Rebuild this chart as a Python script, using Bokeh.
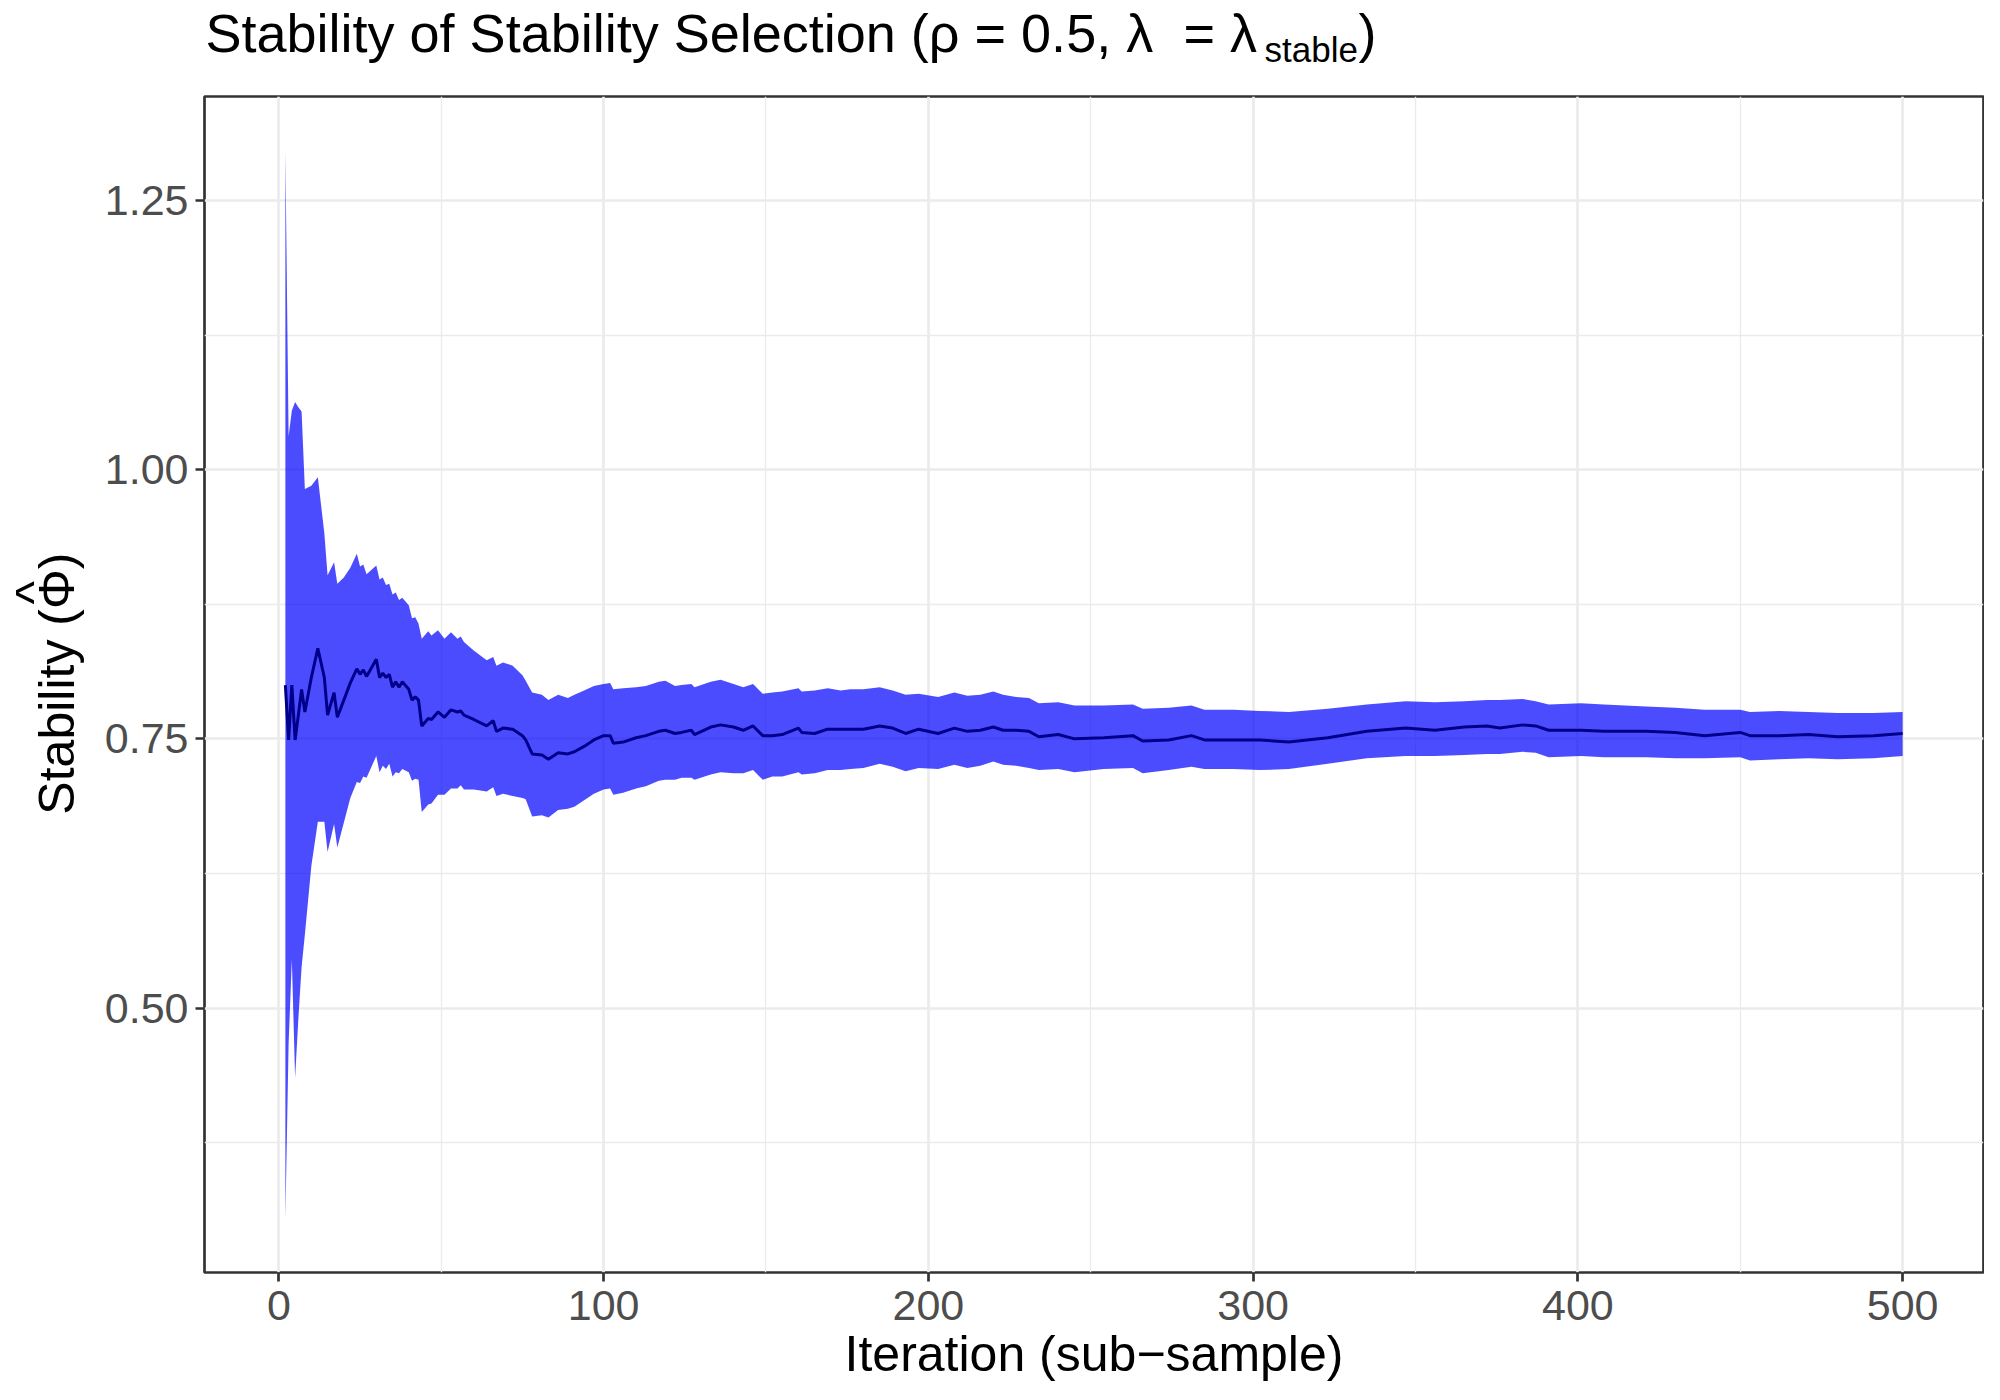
import math
from bokeh.plotting import figure
from bokeh.models import ColumnDataSource, FixedTicker, Label, Range1d
from bokeh.layouts import column, row
from bokeh.embed import file_html
from bokeh.resources import INLINE

# ---- data ----
iteration = [2, 3, 4, 5, 6, 7, 8, 10, 12, 14, 15, 17, 18, 20, 22, 24, 25, 26, 27, 30,
             31, 32, 33, 34, 35, 36, 37, 38, 40, 41, 42, 43, 44, 46, 47, 49, 51, 53, 55, 56,
             57, 60, 64, 66, 67, 69, 72, 75, 76, 78, 81, 83, 86, 89, 91, 94, 97, 100, 102, 103,
             106, 110, 113, 117, 119, 122, 124, 127, 128, 133, 136, 140, 143, 146, 149, 152, 155, 160, 161, 165,
             169, 173, 176, 180, 185, 189, 193, 197, 203, 208, 212, 216, 220, 223, 227, 231, 234, 240, 245, 254,
             263, 266, 274, 281, 285, 294, 302, 311, 323, 335, 347, 356, 365, 372, 376, 383, 387, 391, 401, 408,
             421, 430, 439, 450, 453, 462, 471, 480, 491, 500]

stab_mean = [0.800, 0.749, 0.800, 0.749, 0.772, 0.796, 0.775, 0.807, 0.834, 0.807, 0.772, 0.793, 0.770, 0.786, 0.802, 0.815, 0.810, 0.814, 0.808, 0.824,
             0.807, 0.811, 0.807, 0.810, 0.798, 0.803, 0.798, 0.803, 0.796, 0.786, 0.789, 0.786, 0.762, 0.769, 0.768, 0.775, 0.770, 0.777, 0.775, 0.776,
             0.772, 0.768, 0.762, 0.767, 0.757, 0.760, 0.759, 0.753, 0.749, 0.736, 0.735, 0.731, 0.737, 0.736, 0.738, 0.743, 0.749, 0.753, 0.753, 0.746,
             0.747, 0.751, 0.753, 0.757, 0.758, 0.755, 0.756, 0.758, 0.754, 0.761, 0.763, 0.761, 0.758, 0.762, 0.753, 0.753, 0.754, 0.760, 0.756, 0.755,
             0.759, 0.759, 0.759, 0.759, 0.762, 0.760, 0.755, 0.759, 0.755, 0.760, 0.757, 0.758, 0.761, 0.758, 0.758, 0.757, 0.752, 0.754, 0.750, 0.751,
             0.753, 0.748, 0.749, 0.753, 0.749, 0.749, 0.749, 0.747, 0.751, 0.757, 0.760, 0.758, 0.761, 0.762, 0.760, 0.763, 0.762, 0.758, 0.758, 0.757,
             0.757, 0.756, 0.753, 0.756, 0.753, 0.753, 0.754, 0.752, 0.753, 0.755]

stab_lower = [0.304, 0.467, 0.545, 0.435, 0.490, 0.538, 0.568, 0.632, 0.673, 0.673, 0.645, 0.671, 0.649, 0.672, 0.695, 0.710, 0.709, 0.715, 0.714, 0.734,
              0.719, 0.725, 0.722, 0.727, 0.715, 0.719, 0.718, 0.722, 0.719, 0.711, 0.713, 0.712, 0.682, 0.689, 0.690, 0.698, 0.698, 0.704, 0.704, 0.707,
              0.703, 0.703, 0.701, 0.705, 0.697, 0.699, 0.697, 0.695, 0.694, 0.678, 0.679, 0.677, 0.684, 0.685, 0.687, 0.693, 0.699, 0.703, 0.704, 0.698,
              0.700, 0.704, 0.706, 0.711, 0.712, 0.712, 0.714, 0.714, 0.712, 0.717, 0.719, 0.718, 0.718, 0.721, 0.712, 0.715, 0.715, 0.719, 0.717, 0.718,
              0.721, 0.721, 0.722, 0.723, 0.727, 0.724, 0.720, 0.723, 0.722, 0.726, 0.723, 0.725, 0.729, 0.726, 0.725, 0.723, 0.721, 0.722, 0.719, 0.722,
              0.723, 0.718, 0.721, 0.724, 0.722, 0.722, 0.721, 0.722, 0.727, 0.732, 0.734, 0.734, 0.735, 0.736, 0.736, 0.738, 0.737, 0.733, 0.734, 0.733,
              0.733, 0.732, 0.732, 0.733, 0.730, 0.731, 0.732, 0.731, 0.732, 0.734]

stab_upper = [1.297, 1.031, 1.055, 1.063, 1.058, 1.054, 0.982, 0.985, 0.993, 0.941, 0.902, 0.914, 0.894, 0.900, 0.909, 0.922, 0.910, 0.912, 0.903, 0.911,
              0.898, 0.900, 0.893, 0.894, 0.884, 0.886, 0.879, 0.881, 0.874, 0.862, 0.863, 0.857, 0.843, 0.850, 0.846, 0.851, 0.843, 0.849, 0.843, 0.845,
              0.840, 0.832, 0.823, 0.826, 0.818, 0.821, 0.818, 0.809, 0.804, 0.793, 0.791, 0.786, 0.791, 0.788, 0.791, 0.795, 0.799, 0.801, 0.802, 0.796,
              0.797, 0.798, 0.799, 0.803, 0.804, 0.799, 0.800, 0.801, 0.798, 0.803, 0.805, 0.801, 0.798, 0.801, 0.792, 0.793, 0.794, 0.797, 0.794, 0.795,
              0.797, 0.795, 0.796, 0.796, 0.798, 0.795, 0.791, 0.792, 0.789, 0.793, 0.790, 0.791, 0.794, 0.791, 0.789, 0.788, 0.783, 0.784, 0.781, 0.781,
              0.782, 0.778, 0.779, 0.781, 0.777, 0.777, 0.776, 0.775, 0.778, 0.782, 0.785, 0.784, 0.785, 0.786, 0.786, 0.787, 0.785, 0.782, 0.783, 0.782,
              0.780, 0.779, 0.777, 0.777, 0.775, 0.776, 0.775, 0.774, 0.774, 0.775]

x_ticks = [0, 100, 200, 300, 400, 500]
x_minor_ticks = [50, 150, 250, 350, 450]
y_ticks = [0.5, 0.75, 1.0, 1.25]
y_tick_labels = ["0.50", "0.75", "1.00", "1.25"]
y_minor_ticks = [0.375, 0.625, 0.875, 1.125]

title_part1 = "Stability of Stability Selection (\u03c1 = 0.5, \u03bb"
title_part2 = "= \u03bb"
title_sub = "stable"
title_close = ")"
x_title = "Iteration (sub\u2212sample)"
y_title = "Stability (\u03a6)"
y_title_hat = "^"

FONT = "Liberation Sans"

# ---- layout geometry (pixels) ----
TOTAL_W, TOTAL_H = 1984, 1384
TITLE_H = 90
LEFT_W = 94
MAIN_W = TOTAL_W - LEFT_W
MAIN_H = TOTAL_H - TITLE_H
ML, MR, MT, MB = 110, 1, 6, 111


def blank_fig(w, h):
    f = figure(width=w, height=h, x_range=Range1d(0, w), y_range=Range1d(0, h),
               output_backend="svg", toolbar_location=None, title=None,
               x_axis_location=None, y_axis_location=None,
               min_border=0, min_border_left=0, min_border_right=0,
               min_border_top=0, min_border_bottom=0)
    f.grid.visible = False
    f.outline_line_color = None
    f.background_fill_color = "white"
    f.border_fill_color = "white"
    return f


def title_label(x, y, text, size):
    return Label(x=x, y=y, text=text, text_font=FONT, text_font_size=size,
                 text_color="black", text_baseline="alphabetic", text_align="left")


# ---- title strip ----
tf = blank_fig(TOTAL_W, TITLE_H)
tf.add_layout(title_label(205, 58, title_part1, "54px"))
tf.add_layout(title_label(1183, 58, title_part2, "54px"))
tf.add_layout(title_label(1264, 41, title_sub, "35px"))
tf.add_layout(title_label(1358, 58, title_close, "54px"))

# ---- y-axis title strip ----
lf = blank_fig(LEFT_W, MAIN_H)
lf.add_layout(Label(x=56, y=648, text=y_title, text_font=FONT,
                    text_font_size="50px", text_color="black", angle=math.pi / 2,
                    text_baseline="alphabetic", text_align="center"))
lf.add_layout(Label(x=32, y=748, text=y_title_hat, text_font=FONT,
                    text_font_size="50px", text_color="black", angle=math.pi / 2,
                    text_baseline="alphabetic", text_align="center"))

# ---- main panel ----
xmin, xmax = min(iteration), max(iteration)
ymin, ymax = min(stab_lower), max(stab_upper)
xpad = 0.05 * (xmax - xmin)
ypad = 0.05 * (ymax - ymin)

p = figure(width=MAIN_W, height=MAIN_H,
           x_range=Range1d(xmin - xpad, xmax + xpad),
           y_range=Range1d(ymin - ypad, ymax + ypad),
           output_backend="svg", toolbar_location=None, title=None,
           min_border_left=ML, min_border_right=MR,
           min_border_top=MT, min_border_bottom=MB)
p.background_fill_color = "white"
p.border_fill_color = "white"
p.outline_line_color = "#333333"
p.outline_line_width = 2.7

src = ColumnDataSource(dict(x=iteration, m=stab_mean, lo=stab_lower, hi=stab_upper))
p.varea(x="x", y1="lo", y2="hi", source=src, fill_color="#0000FF", fill_alpha=0.7)
p.line(x="x", y="m", source=src, line_color="#00008B", line_width=3)

p.xaxis.ticker = FixedTicker(ticks=x_ticks, minor_ticks=x_minor_ticks)
p.yaxis.ticker = FixedTicker(ticks=y_ticks, minor_ticks=y_minor_ticks)
p.yaxis.major_label_overrides = {t: l for t, l in zip(y_ticks, y_tick_labels)}

for g in (p.xgrid, p.ygrid):
    g.grid_line_color = "#EBEBEB"
    g.grid_line_width = 2.7
    g.minor_grid_line_color = "#EBEBEB"
    g.minor_grid_line_width = 1.35

for ax in (p.xaxis, p.yaxis):
    ax.axis_line_color = None
    ax.major_tick_line_color = "#333333"
    ax.major_tick_line_width = 2.7
    ax.major_tick_out = 9
    ax.major_tick_in = 0
    ax.minor_tick_line_color = None
    ax.major_label_text_font = FONT
    ax.major_label_text_font_size = "43px"
    ax.major_label_text_color = "#4D4D4D"
    ax.axis_label_text_font = FONT
    ax.axis_label_text_font_size = "50px"
    ax.axis_label_text_font_style = "normal"
    ax.axis_label_text_color = "black"

p.xaxis.axis_label = x_title
p.xaxis.major_label_standoff = 9
p.yaxis.major_label_standoff = 7
p.xaxis.axis_label_standoff = 3

layout = column(tf, row(lf, p))
open("out.html", "w").write(file_html(layout, INLINE))
